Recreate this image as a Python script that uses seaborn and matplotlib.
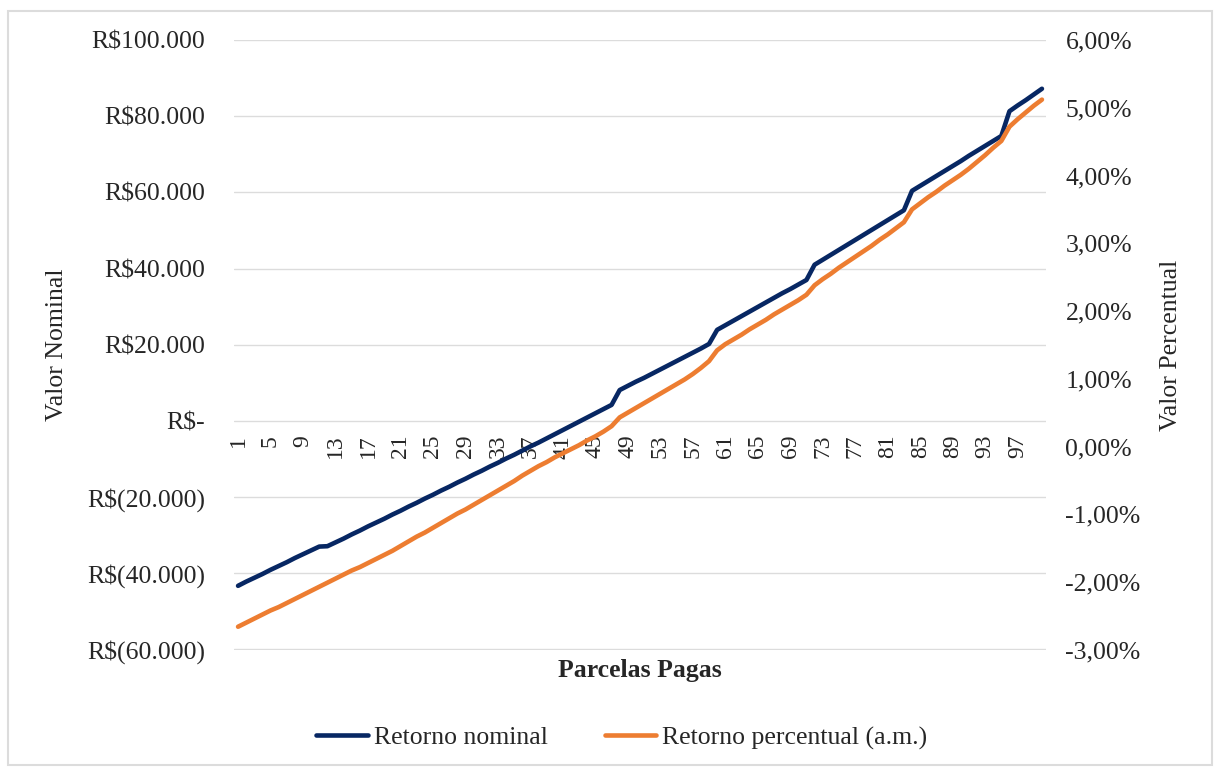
import matplotlib
matplotlib.use("Agg")
import matplotlib.pyplot as plt
from matplotlib.patches import Rectangle
from matplotlib.ticker import FuncFormatter, FixedLocator, MultipleLocator
import seaborn as sns
import pandas as pd

# Installments paid (1..100)
parcelas = list(range(1, 101))

# Nominal return (R$) per number of installments paid
retorno_nominal = [
    -43300, -42200, -41200, -40200, -39100, -38100, -37100, -36000, -35000, -34000,
    -33000, -32900, -31900, -30900, -29800, -28800, -27700, -26700, -25700, -24600,
    -23600, -22500, -21500, -20400, -19400, -18300, -17300, -16200, -15200, -14100,
    -13100, -12000, -11000, -9900, -8900, -7800, -6700, -5700, -4600, -3500,
    -2400, -1300, -200, 900, 2000, 3100, 4200, 8100, 9200, 10300,
    11300, 12400, 13500, 14600, 15700, 16800, 17900, 19000, 20200, 23900,
    25100, 26300, 27500, 28700, 29900, 31100, 32300, 33500, 34600, 35800,
    37000, 41000, 42300, 43600, 44900, 46200, 47500, 48800, 50100, 51400,
    52700, 54000, 55300, 60400, 61700, 63000, 64300, 65600, 66900, 68200,
    69600, 70900, 72200, 73500, 74800, 81300, 82800, 84200, 85700, 87200,
]

# Monthly percentage return (% a.m.)
retorno_percentual = [
    -2.66, -2.60, -2.54, -2.48, -2.42, -2.37, -2.31, -2.25, -2.19, -2.13,
    -2.07, -2.01, -1.95, -1.89, -1.83, -1.78, -1.72, -1.66, -1.60, -1.54,
    -1.47, -1.40, -1.33, -1.27, -1.20, -1.13, -1.06, -0.99, -0.93, -0.86,
    -0.79, -0.72, -0.65, -0.58, -0.51, -0.43, -0.36, -0.29, -0.23, -0.16,
    -0.10, -0.04, 0.02, 0.09, 0.15, 0.22, 0.30, 0.43, 0.50, 0.57,
    0.64, 0.71, 0.78, 0.85, 0.92, 0.99, 1.07, 1.16, 1.26, 1.42,
    1.51, 1.58, 1.65, 1.73, 1.80, 1.87, 1.95, 2.02, 2.09, 2.16,
    2.24, 2.38, 2.47, 2.55, 2.64, 2.72, 2.80, 2.88, 2.96, 3.05,
    3.13, 3.22, 3.31, 3.50, 3.59, 3.68, 3.76, 3.85, 3.93, 4.01,
    4.10, 4.20, 4.30, 4.41, 4.51, 4.72, 4.83, 4.93, 5.03, 5.12,
]

x_tick_labels = list(range(1, 101, 4))

df = pd.DataFrame({
    "Parcelas": parcelas,
    "Nominal": retorno_nominal,
    "Percentual": retorno_percentual,
})

sns.set_theme(style="white")
plt.rcParams["font.family"] = ["Liberation Serif", "DejaVu Serif"]

NAVY = "#072763"
ORANGE = "#ED7D31"
GRID = "#DCDCDC"
FS = 18.5

fig = plt.figure(figsize=(12.19, 7.69), dpi=100)
ax = fig.add_axes([234 / 1219, 1 - 650 / 769, (1046 - 234) / 1219, (650 - 40) / 769])
ax2 = ax.twinx()

sns.lineplot(data=df, x="Parcelas", y="Nominal", ax=ax, color=NAVY, lw=3.3,
             label="Retorno nominal", legend=False)
sns.lineplot(data=df, x="Parcelas", y="Percentual", ax=ax2, color=ORANGE, lw=3.3,
             label="Retorno percentual (a.m.)", legend=False)
for ln in ax.lines + ax2.lines:
    ln.set_solid_capstyle("round")
    ln.set_solid_joinstyle("round")

# Left (nominal) axis
ax.set_xlim(0.5, 100.5)
ax.set_ylim(-60150, 100000)
ax.spines["bottom"].set_position(("data", 0))
ax.yaxis.set_major_locator(MultipleLocator(20000))


def fmt_real(v, _pos=None):
    v = int(round(v))
    if v == 0:
        return "R\\$-"
    s = f"{abs(v):,}".replace(",", ".")
    return f"R\\${s}" if v > 0 else f"R\\$({s})"


ax.yaxis.set_major_formatter(FuncFormatter(fmt_real))
ax.grid(axis="y", color=GRID, lw=1.0)
ax.grid(axis="x", visible=False)
ax.set_axisbelow(True)

# Category labels sit on the zero line, rotated
ax.xaxis.set_major_locator(FixedLocator(x_tick_labels))
ax.xaxis.set_major_formatter(FuncFormatter(lambda v, p: f"{int(round(v))}"))
ax.tick_params(axis="x", length=0, pad=10, labelsize=17, labelrotation=90)
ax.tick_params(axis="y", length=0, pad=21, labelsize=FS)

# Right (percentage) axis
ax2.set_ylim(-3.0034, 6)
ax2.yaxis.set_major_locator(MultipleLocator(1))
ax2.yaxis.set_major_formatter(FuncFormatter(lambda v, p: f"{v:.2f}%".replace(".", ",")))
ax2.tick_params(axis="y", length=0, pad=14, labelsize=FS)
ax2.grid(False)

for a in (ax, ax2):
    for sp in a.spines.values():
        sp.set_visible(False)

ax.set_xlabel("")
ax.set_ylabel("")
ax2.set_ylabel("")

fig.text(57 / 1219, 1 - 345 / 769, "Valor Nominal", rotation=90, ha="center", va="center", fontsize=FS)
fig.text(1171 / 1219, 1 - 345 / 769, "Valor Percentual", rotation=90, ha="center", va="center", fontsize=FS)
fig.text(640 / 1219, 1 - 671 / 769, "Parcelas Pagas", ha="center", va="center", fontsize=FS, fontweight="bold")

handles = ax.lines[:1] + ax2.lines[:1]
fig.legend(handles, [h.get_label() for h in handles], loc="center",
           bbox_to_anchor=(622 / 1219, 1 - 738 / 769), ncol=2, frameon=False,
           fontsize=FS, handlelength=2.0, handletextpad=0.25, columnspacing=2.2)

fig.patches.append(Rectangle((8 / 1219, 4 / 769), 1204 / 1219, 754 / 769,
                             transform=fig.transFigure, fill=False,
                             edgecolor=GRID, lw=1.5))

fig.savefig("out.png", dpi=100, facecolor="white")
